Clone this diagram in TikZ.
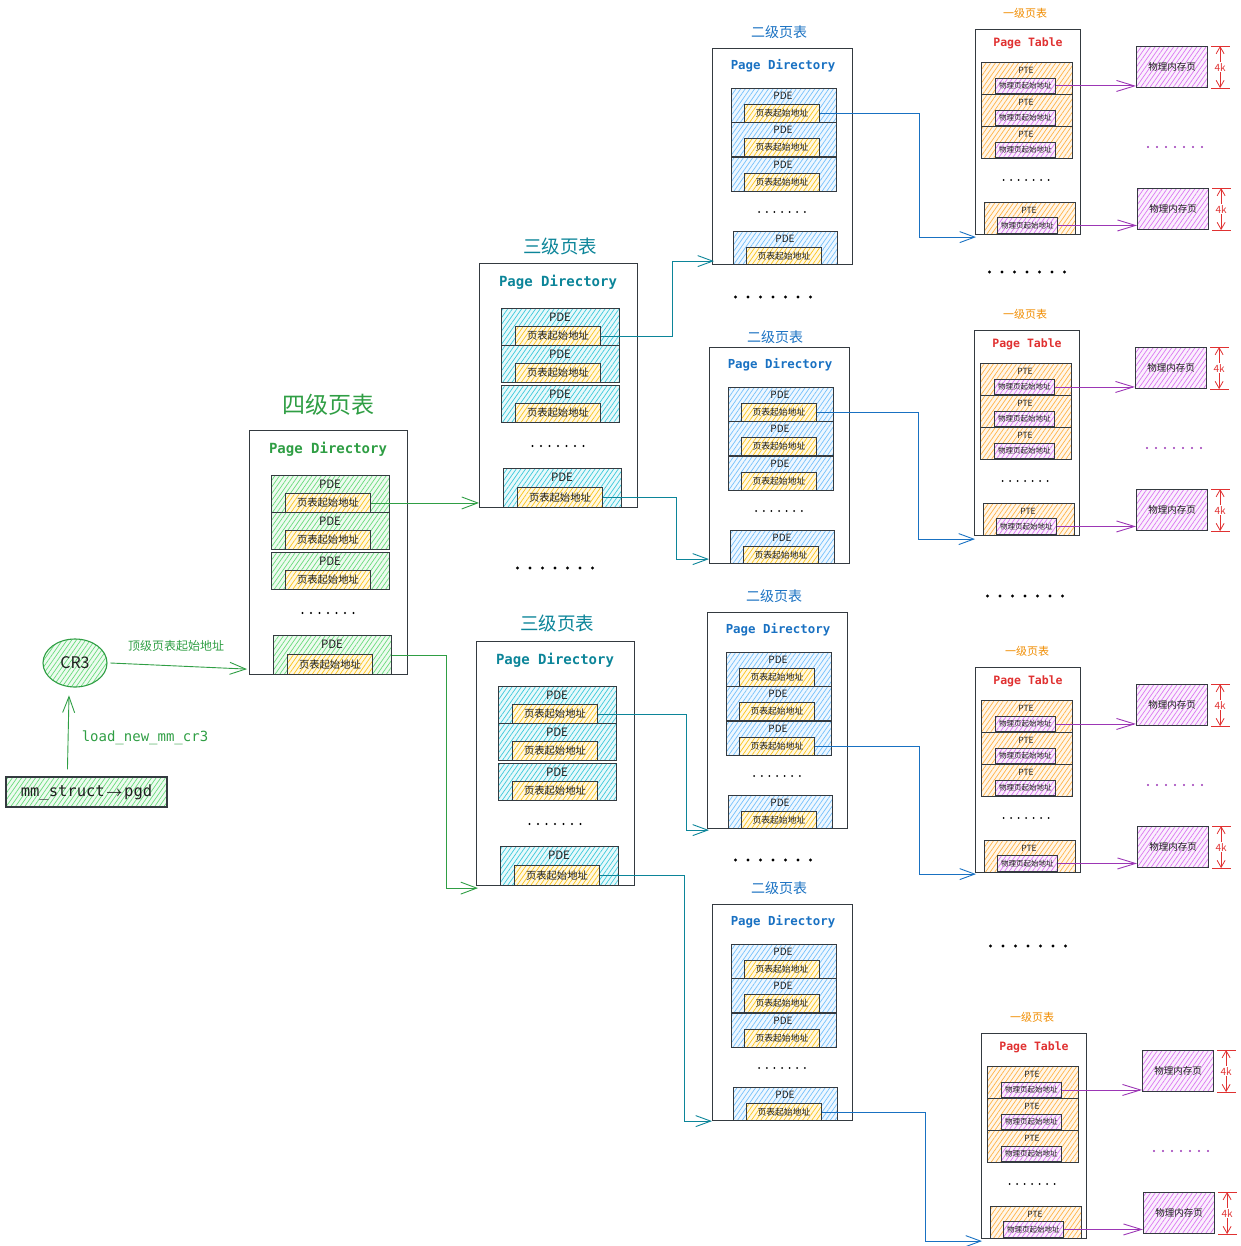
\documentclass[tikz,border=0pt]{standalone}
\usepackage{amsmath}
\usepackage{fontspec}
\setmonofont{DejaVu Sans Mono}
\newfontfamily\cjk{Noto Sans CJK SC}
\usetikzlibrary{arrows.meta,patterns.meta,shapes.geometric,calc}

\definecolor{cgreen}{HTML}{2F9E44}
\definecolor{cteal}{HTML}{0C8599}
\definecolor{cblue}{HTML}{1971C2}
\definecolor{corange}{HTML}{F08C00}
\definecolor{cred}{HTML}{E03131}
\definecolor{cpurple}{HTML}{9C36B5}
\definecolor{cline}{HTML}{343A40}
\definecolor{ctext}{HTML}{1E1E1E}
\definecolor{hgreen}{HTML}{69DB7C}
\definecolor{hteal}{HTML}{3BC9DB}
\definecolor{hblue}{HTML}{74C0FC}
\definecolor{hyellow}{HTML}{FCC419}
\definecolor{horange}{HTML}{FFB347}
\definecolor{hpink}{HTML}{DA77F2}
\definecolor{hpurple}{HTML}{DA77F2}

\tikzset{
  hatch/.style={pattern={Lines[angle=55,distance=3.8pt,line width=0.7pt]},
    pattern color=#1, preaction={fill=#1!12}},
  tbox/.style={draw=cline, line width=1.1pt, anchor=north west, inner sep=0pt},
  ent/.style={draw=cline, line width=1.1pt, anchor=north west, inner sep=0pt, hatch=#1},
  inbox/.style={draw=cline, line width=0.9pt, anchor=north west, inner sep=0pt,
    hatch=hyellow, text=ctext},
  inpt/.style={draw=cline, line width=0.9pt, anchor=north west, inner sep=0pt,
    hatch=hpink, text=ctext, font=\cjk\fontsize{7.5}{8}\selectfont,
    minimum width=60pt},
  page/.style={draw=cline, line width=1.1pt, anchor=north west, inner sep=0pt,
    hatch=hpurple, text=ctext, font=\cjk\fontsize{9.5}{11}\selectfont,
    minimum width=71pt, minimum height=41pt},
  title4/.style={font=\cjk\fontsize{23}{26}\selectfont, text=cgreen},
  title3/.style={font=\cjk\fontsize{18.5}{21}\selectfont, text=cteal},
  title2/.style={font=\cjk\fontsize{14}{16}\selectfont, text=cblue},
  title1/.style={font=\cjk\fontsize{11}{13}\selectfont, text=corange},
  pdbig/.style={font=\ttfamily\bfseries\fontsize{14}{16}\selectfont},
  pdmid/.style={font=\ttfamily\bfseries\fontsize{12.4}{14}\selectfont, text=cblue},
  ptsm/.style={font=\ttfamily\bfseries\fontsize{11.5}{13}\selectfont, text=cred},
  pdebig/.style={font=\cjk\fontsize{11.5}{12}\selectfont, text=ctext},
  pdemid/.style={font=\cjk\fontsize{10}{11}\selectfont, text=ctext},
  ptetxt/.style={font=\cjk\fontsize{8.5}{9}\selectfont, text=ctext},
  garr/.style={draw=cgreen, line width=0.9pt,
    -{Straight Barb[length=16pt,width=12pt,line width=0.9pt]}},
  tarr/.style={draw=cteal, line width=0.9pt,
    -{Straight Barb[length=15pt,width=11pt,line width=0.9pt]}},
  barr/.style={draw=cblue, line width=0.9pt,
    -{Straight Barb[length=15pt,width=11pt,line width=0.9pt]}},
  parr/.style={draw=cpurple, line width=0.9pt,
    -{Straight Barb[length=18pt,width=11pt,line width=0.9pt]}},
  kline/.style={draw=cred, line width=0.8pt},
  kar/.style={-{Straight Barb[length=7pt,width=8pt,line width=0.8pt]}},
  ktext/.style={font=\cjk\fontsize{10}{11}\selectfont, text=cred, inner sep=1pt},
}

% row of seven dots
\newcommand{\dotrow}[5]{%
  \foreach \k in {-3,...,3} \fill[#5] ({#1+\k*#3},{#2}) circle (#4);}

% page directory of level 4 / level 3
\newcommand{\bigdir}[4]{%
  \node[tbox, minimum width=158pt, minimum height=244pt] (#1) at (#2,#3) {};
  \node[pdbig, text=c#4] (#1-t) at ({#2+79},{#3+19}) {Page Directory};
  \foreach \n/\dy in {1/45,2/82,3/122} {
    \node[ent=h#4, minimum width=118pt, minimum height=37pt] (#1-e\n) at ({#2+22},{#3+\dy}) {};
    \node[pdebig] (#1-l\n) at ({#2+81},{#3+\dy+9}) {PDE};
    \node[inbox, font=\cjk\fontsize{10.3}{11}\selectfont, minimum width=85pt,
      minimum height=19pt] (#1-\n) at ({#2+36},{#3+\dy+18}) {页表起始地址};
  }
  \dotrow{#2+79}{#3+183}{8.5}{1.1pt}{black}
  \node[ent=h#4, minimum width=118pt, minimum height=39pt] (#1-e4) at ({#2+24},{#3+205}) {};
  \node[pdebig] (#1-l4) at ({#2+83},{#3+214}) {PDE};
  \node[inbox, font=\cjk\fontsize{10.3}{11}\selectfont, minimum width=85pt,
    minimum height=20pt] (#1-4) at ({#2+38},{#3+224}) {页表起始地址};
}

% page directory of level 2
\newcommand{\middir}[3]{%
  \node[tbox, minimum width=140pt, minimum height=216pt] (#1) at (#2,#3) {};
  \node[pdmid] (#1-t) at ({#2+71},{#3+18}) {Page Directory};
  \foreach \n/\dy in {1/40,2/74,3/109} {
    \node[ent=hblue, minimum width=105pt, minimum height=34pt] (#1-e\n) at ({#2+19},{#3+\dy}) {};
    \node[pdemid] (#1-l\n) at ({#2+71},{#3+\dy+8}) {PDE};
    \node[inbox, font=\cjk\fontsize{8.8}{10}\selectfont, minimum width=75pt,
      minimum height=18pt] (#1-\n) at ({#2+32},{#3+\dy+16}) {页表起始地址};
  }
  \dotrow{#2+70}{#3+164}{7.6}{1pt}{black}
  \node[ent=hblue, minimum width=104pt, minimum height=33pt] (#1-e4) at ({#2+21},{#3+183}) {};
  \node[pdemid] (#1-l4) at ({#2+73},{#3+191}) {PDE};
  \node[inbox, font=\cjk\fontsize{8.8}{10}\selectfont, minimum width=75pt,
    minimum height=17pt] (#1-4) at ({#2+34},{#3+199}) {页表起始地址};
}

% page table of level 1 with its pages
\newcommand{\ptab}[3]{%
  \node[tbox, minimum width=105pt, minimum height=205pt] (#1) at (#2,#3) {};
  \node[ptsm] (#1-t) at ({#2+53},{#3+14}) {Page Table};
  \foreach \n/\dy in {1/33,2/65,3/97} {
    \node[ent=horange, minimum width=91pt, minimum height=32pt] (#1-e\n) at ({#2+6},{#3+\dy}) {};
    \node[ptetxt] (#1-l\n) at ({#2+51},{#3+\dy+8}) {PTE};
    \node[inpt, minimum height=15pt] (#1-\n) at ({#2+20},{#3+\dy+16}) {物理页起始地址};
  }
  \dotrow{#2+51}{#3+151}{7.5}{1pt}{black}
  \node[ent=horange, minimum width=91pt, minimum height=32pt] (#1-e4) at ({#2+9},{#3+173}) {};
  \node[ptetxt] (#1-l4) at ({#2+54},{#3+181}) {PTE};
  \node[inpt, minimum height=16pt] (#1-4) at ({#2+22},{#3+188}) {物理页起始地址};
  \node[page] (#1-p1) at ({#2+161},{#3+17}) {物理内存页};
  \node[page] (#1-p2) at ({#2+162},{#3+159}) {物理内存页};
  \dotrow{#2+200}{#3+118}{9}{1.2pt}{cpurple}
  \draw[parr] (#1-1.east) -- (#1-1.east -| #1-p1.west);
  \draw[parr] (#1-4.east) -- (#1-4.east -| #1-p2.west);
  \foreach \p in {p1,p2} {
    \draw[kline] ($(#1-\p.north east)+(3,0)$) -- ++(19,0);
    \draw[kline] ($(#1-\p.south east)+(3,0)$) -- ++(19,0);
    \node[ktext] (#1-\p-k) at ($(#1-\p.east)+(12,0)$) {4k};
    \draw[kline, kar] (#1-\p-k) -- (#1-\p-k |- #1-\p.north);
    \draw[kline, kar] (#1-\p-k) -- (#1-\p-k |- #1-\p.south);
  }
}

\begin{document}
\begin{tikzpicture}[x=1pt,y=-1pt]
  \useasboundingbox (0,0) rectangle (1240,1246);

  % CR3 and mm_struct
  \node[ellipse, draw=cgreen, line width=1.1pt, hatch=hgreen, minimum width=64pt,
    minimum height=48pt, font=\cjk\fontsize{16}{18}\selectfont, text=ctext] (cr3) at (75,663) {CR3};
  \node[draw=cline, line width=1.1pt, hatch=hgreen, minimum width=161pt, minimum height=30pt,
    font=\ttfamily\fontsize{15.5}{17}\selectfont, text=ctext] (mm) at (86.5,792)
    {mm\_struct\makebox[1.25em]{$\boldsymbol{\rightarrow}$}pgd};
  \node[font=\ttfamily\fontsize{14}{16}\selectfont, text=cgreen] (lcr3) at (145,738) {load\_new\_mm\_cr3};
  \node[font=\cjk\fontsize{12}{14}\selectfont, text=cgreen] (ltop) at (176,646) {顶级页表起始地址};

  % level 4
  \node[title4] (t4) at (328,405) {四级页表};
  \bigdir{l4}{249}{430}{green}

  % level 3
  \node[title3] (t3a) at (560,246) {三级页表};
  \bigdir{l3a}{479}{263}{teal}
  \node[title3] (t3b) at (557,623) {三级页表};
  \bigdir{l3b}{476}{641}{teal}

  % level 2
  \node[title2] (t2a) at (779,32) {二级页表};
  \middir{l2a}{712}{48}
  \node[title2] (t2b) at (775,337) {二级页表};
  \middir{l2b}{709}{347}
  \node[title2] (t2c) at (774,596) {二级页表};
  \middir{l2c}{707}{612}
  \node[title2] (t2d) at (779,888) {二级页表};
  \middir{l2d}{712}{904}

  % level 1
  \node[title1] (t1a) at (1025,13) {一级页表};
  \ptab{l1a}{975}{29}
  \node[title1] (t1b) at (1025,314) {一级页表};
  \ptab{l1b}{974}{330}
  \node[title1] (t1c) at (1027,651) {一级页表};
  \ptab{l1c}{975}{667}
  \node[title1] (t1d) at (1032,1017) {一级页表};
  \ptab{l1d}{981}{1033}

  % dots between tables
  \dotrow{555}{568}{12.5}{1.6pt}{black}
  \dotrow{773}{297}{12.5}{1.6pt}{black}
  \dotrow{773}{860}{12.5}{1.6pt}{black}
  \dotrow{1027}{272}{12.5}{1.6pt}{black}
  \dotrow{1025}{596}{12.5}{1.6pt}{black}
  \dotrow{1028}{946}{12.5}{1.6pt}{black}

  % connectors
  \draw[garr] ($(mm.north west)+(62,-7)$) -- ($(cr3.south)+(-6,8)$);
  \draw[garr] ($(cr3.east)+(3,0)$) -- ($(l4.south west)+(-2,-6)$);
  \draw[garr] (l4-1.east) -- (l4-1.east -| l3a.west);
  \draw[garr] (l4-e4.east) -- ++(54,0) |- ($(l3b.south west)+(2,2)$);

  \draw[tarr] (l3a-1.east) -- ++(72,0) |- ($(l2a.south west)+(2,-4)$);
  \draw[tarr] (l3a-4.east) -- ++(74,0) |- ($(l2b.south west)+(0,-5)$);
  \draw[tarr] (l3b-1.east) -- ++(89,0) |- ($(l2c.south west)+(2,1)$);
  \draw[tarr] (l3b-4.east) -- ++(85,0) |- (l2d.south west);

  \draw[barr] (l2a-1.east) -- ++(100,0) |- ($(l1a.south west)+(1,2)$);
  \draw[barr] (l2b-1.east) -- ++(102,0) |- ($(l1b.south west)+(1,3)$);
  \draw[barr] (l2c-3.east) -- ++(105,0) |- ($(l1c.south west)+(1,1)$);
  \draw[barr] (l2d-4.east) -- ++(104,0) |- ($(l1d.south west)+(1,2)$);
\end{tikzpicture}
\end{document}
